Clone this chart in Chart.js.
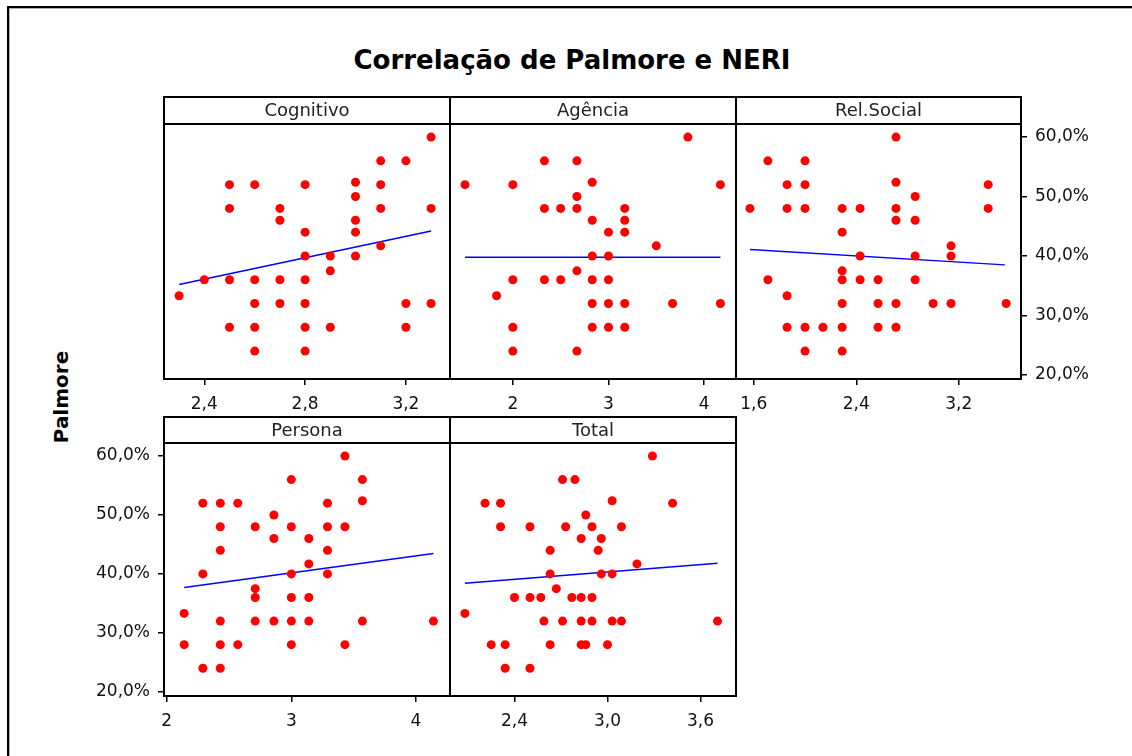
<!DOCTYPE html>
<html>
<head>
<meta charset="utf-8">
<script src="https://cdn.jsdelivr.net/npm/chart.js@4.4.1/dist/chart.umd.min.js"></script>
<style>
  html, body { margin: 0; padding: 0; background: #fff; }
  #page { position: relative; width: 1132px; height: 756px; overflow: hidden; font-family: 'DejaVu Sans', sans-serif; }
  #frame { position: absolute; left: 7px; top: 6px; width: 1140px; height: 760px; border-left: 2px solid #000; border-top: 2px solid #000; box-shadow: inset 1px 1px 0 #b0b0b0; }
  #title { position: absolute; left: 0; width: 1144px; top: 45px; text-align: center; font-weight: bold; font-size: 26px; color: #000; }
  #ylabel { position: absolute; left: 61px; top: 397px; transform: translate(-50%, -50%) rotate(-90deg); font-weight: bold; font-size: 20px; color: #000; }
  canvas { position: absolute; }
</style>
</head>
<body>
<div id="page">
  <div id="frame"></div>
  <div id="title">Correlação de Palmore e NERI</div>
  <div id="ylabel">Palmore</div>
</div>
<script>
// panel names
const panelNames = ['Cognitivo', 'Agência', 'Rel.Social', 'Persona', 'Total'];

// Palmore (%) against each NERI score
const cognitivoX = [2.3, 2.4, 2.5, 2.5, 2.5, 2.5, 2.6, 2.6, 2.6, 2.6, 2.6, 2.7, 2.7, 2.7, 2.7,
  2.8, 2.8, 2.8, 2.8, 2.8, 2.8, 2.8, 2.9, 2.9, 2.9, 3.0, 3.0, 3.0, 3.0, 3.0,
  3.1, 3.1, 3.1, 3.1, 3.2, 3.2, 3.2, 3.3, 3.3, 3.3];
const cognitivoY = [33.3, 36, 52, 48, 36, 28, 52, 36, 32, 28, 24, 48, 46, 36, 32,
  52, 44, 40, 36, 32, 28, 24, 40, 37.5, 28, 52.4, 50, 46, 44, 40,
  56, 52, 48, 41.7, 56, 32, 28, 60, 48, 32];

const agenciaX = [1.5, 1.83, 2.0, 2.0, 2.0, 2.0, 2.33, 2.33, 2.33, 2.5, 2.5,
  2.67, 2.67, 2.67, 2.67, 2.67, 2.83, 2.83, 2.83, 2.83, 2.83, 2.83,
  3.0, 3.0, 3.0, 3.0, 3.0, 3.17, 3.17, 3.17, 3.17, 3.17, 3.5, 3.67, 3.83, 4.17, 4.17];
const agenciaY = [52, 33.3, 52, 36, 28, 24, 56, 48, 36, 48, 36,
  56, 50, 48, 37.5, 24, 52.4, 46, 40, 36, 32, 28,
  44, 40, 36, 32, 28, 48, 46, 44, 32, 28, 41.7, 32, 60, 52, 32];

const relSocialX = [1.57, 1.71, 1.71, 1.86, 1.86, 1.86, 1.86, 2.0, 2.0, 2.0, 2.0, 2.0, 2.14,
  2.29, 2.29, 2.29, 2.29, 2.29, 2.29, 2.29, 2.43, 2.43, 2.43, 2.57, 2.57, 2.57,
  2.71, 2.71, 2.71, 2.71, 2.71, 2.71, 2.86, 2.86, 2.86, 2.86, 3.0, 3.14, 3.14, 3.14,
  3.43, 3.43, 3.57];
const relSocialY = [48, 56, 36, 52, 48, 33.3, 28, 56, 52, 48, 28, 24, 28,
  48, 44, 37.5, 36, 32, 28, 24, 48, 40, 36, 36, 32, 28,
  60, 52.4, 48, 46, 32, 28, 50, 46, 40, 36, 32, 41.7, 40, 32,
  52, 48, 32];

const personaX = [2.14, 2.14, 2.29, 2.29, 2.29, 2.43, 2.43, 2.43, 2.43, 2.43, 2.43, 2.57, 2.57,
  2.71, 2.71, 2.71, 2.71, 2.86, 2.86, 2.86, 3.0, 3.0, 3.0, 3.0, 3.0, 3.0,
  3.14, 3.14, 3.14, 3.14, 3.29, 3.29, 3.29, 3.29, 3.43, 3.43, 3.43, 3.57, 3.57, 3.57, 4.14];
const personaY = [33.3, 28, 52, 40, 24, 52, 48, 44, 32, 28, 24, 52, 28,
  48, 37.5, 36, 32, 50, 46, 32, 56, 48, 40, 36, 32, 28,
  46, 41.7, 36, 32, 52, 48, 44, 40, 60, 48, 28, 56, 52.4, 32, 32];

const totalX = [2.08, 2.21, 2.25, 2.31, 2.31, 2.34, 2.34, 2.4, 2.5, 2.5, 2.5, 2.57, 2.59,
  2.63, 2.63, 2.63, 2.67, 2.71, 2.71, 2.73, 2.77, 2.79, 2.83, 2.83, 2.83, 2.83,
  2.86, 2.86, 2.9, 2.9, 2.9, 2.94, 2.96, 2.96, 3.0, 3.03, 3.03, 3.03, 3.09, 3.09,
  3.19, 3.29, 3.42, 3.71];
const totalY = [33.3, 52, 28, 52, 48, 28, 24, 36, 48, 36, 24, 36, 32,
  44, 40, 28, 37.5, 56, 32, 48, 36, 56, 46, 36, 32, 28,
  50, 28, 48, 36, 32, 44, 46, 40, 28, 52.4, 40, 32, 48, 32,
  41.7, 60, 52, 32];

// fitted line ends
const fitX = [[2.3, 3.3], [1.5, 4.17], [1.57, 3.56], [2.14, 4.14], [2.08, 3.71]];
const fitY = [[35.2, 44.2], [39.8, 39.8], [41.1, 38.5], [37.7, 43.45], [38.4, 41.8]];

// axes
const xMin = [2.24, 1.343, 1.461, 1.978, 1.984];
const xMax = [3.375, 4.333, 3.686, 4.273, 3.829];
const xTickValues = [[2.4, 2.8, 3.2], [2, 3, 4], [1.6, 2.4, 3.2], [2, 3, 4], [2.4, 3.0, 3.6]];
const xTickLabels = [['2,4', '2,8', '3,2'], ['2', '3', '4'], ['1,6', '2,4', '3,2'], ['2', '3', '4'], ['2,4', '3,0', '3,6']];
const yTickValues = [20, 30, 40, 50, 60];
const yTickLabels = ['20,0%', '30,0%', '40,0%', '50,0%', '60,0%'];
const yMin = 19.3, yMax = 62.2;

const xs = [cognitivoX, agenciaX, relSocialX, personaX, totalX];
const ys = [cognitivoY, agenciaY, relSocialY, personaY, totalY];

// panel boxes on the page
const boxes = [
  { left: 164, right: 450, head: 97, top: 124, bottom: 379, yAxis: null },
  { left: 450, right: 736, head: 97, top: 124, bottom: 379, yAxis: null },
  { left: 736, right: 1021, head: 97, top: 124, bottom: 379, yAxis: 'right' },
  { left: 164, right: 450, head: 417, top: 443, bottom: 696, yAxis: 'left' },
  { left: 450, right: 736, head: 417, top: 443, bottom: 696, yAxis: null }
];
const AX = 80, XAX = 36, PAD = 2;

Chart.defaults.font.family = "'DejaVu Sans', sans-serif";
Chart.defaults.font.size = 17;
Chart.defaults.color = '#111';

const stripPlugin = {
  id: 'strip',
  afterDraw(chart, args, opts) {
    const ctx = chart.ctx, a = chart.chartArea;
    ctx.save();
    ctx.strokeStyle = '#000';
    ctx.lineWidth = 2;
    ctx.strokeRect(a.left, a.top - opts.height, a.right - a.left, opts.height);
    ctx.strokeRect(a.left, a.top, a.right - a.left, a.bottom - a.top);
    ctx.fillStyle = '#222';
    ctx.font = "18px 'DejaVu Sans'";
    ctx.textAlign = 'center';
    ctx.textBaseline = 'middle';
    ctx.fillText(opts.text, (a.left + a.right) / 2, a.top - opts.height / 2 + 1);
    ctx.restore();
  }
};

const page = document.getElementById('page');

boxes.forEach((b, p) => {
  const cv = document.createElement('canvas');
  const axW = b.yAxis ? AX : 0;
  const w = (b.right - b.left) + 2 * PAD + axW;
  const h = (b.bottom - b.head) + 2 * PAD + XAX;
  cv.width = w; cv.height = h;
  cv.style.left = (b.left - PAD - (b.yAxis === 'left' ? AX : 0)) + 'px';
  cv.style.top = (b.head - PAD) + 'px';
  page.appendChild(cv);

  const pts = xs[p].map((x, i) => ({ x: x, y: ys[p][i] }));
  const fit = fitX[p].map((x, i) => ({ x: x, y: fitY[p][i] }));

  new Chart(cv.getContext('2d'), {
    type: 'scatter',
    data: {
      datasets: [
        { data: pts, backgroundColor: '#ff0000', borderColor: '#ff0000', borderWidth: 0,
          pointRadius: 4.5, pointHoverRadius: 4.5, clip: false, order: 1 },
        { type: 'line', data: fit, borderColor: '#0000ff', borderWidth: 1.5, pointRadius: 0,
          showLine: true, fill: false, order: 2 }
      ]
    },
    options: {
      responsive: false,
      animation: false,
      events: [],
      layout: { autoPadding: false, padding: { left: PAD, right: PAD, top: PAD + (b.top - b.head), bottom: PAD } },
      plugins: {
        legend: { display: false },
        tooltip: { enabled: false },
        strip: { text: panelNames[p], height: b.top - b.head }
      },
      scales: {
        x: {
          type: 'linear', min: xMin[p], max: xMax[p],
          border: { display: false },
          grid: { drawOnChartArea: false, drawTicks: true, tickLength: 6, color: '#000', lineWidth: 1.5 },
          ticks: { padding: 9, maxRotation: 0, callback: (v, i) => xTickLabels[p][i] },
          afterBuildTicks: s => { s.ticks = xTickValues[p].map(v => ({ value: v })); },
          afterFit: s => { s.height = XAX; s.paddingLeft = 0; s.paddingRight = 0; }
        },
        y: {
          type: 'linear', min: yMin, max: yMax,
          display: b.yAxis !== null,
          position: b.yAxis || 'left',
          border: { display: false },
          grid: { drawOnChartArea: false, drawTicks: true, tickLength: 6, color: '#000', lineWidth: 1.5 },
          ticks: { padding: 8, callback: (v, i) => yTickLabels[i] },
          afterBuildTicks: s => { s.ticks = yTickValues.map(v => ({ value: v })); },
          afterFit: s => { s.width = axW; s.paddingTop = 0; s.paddingBottom = 0; }
        }
      }
    },
    plugins: [stripPlugin]
  });
});
</script>
</body>
</html>
